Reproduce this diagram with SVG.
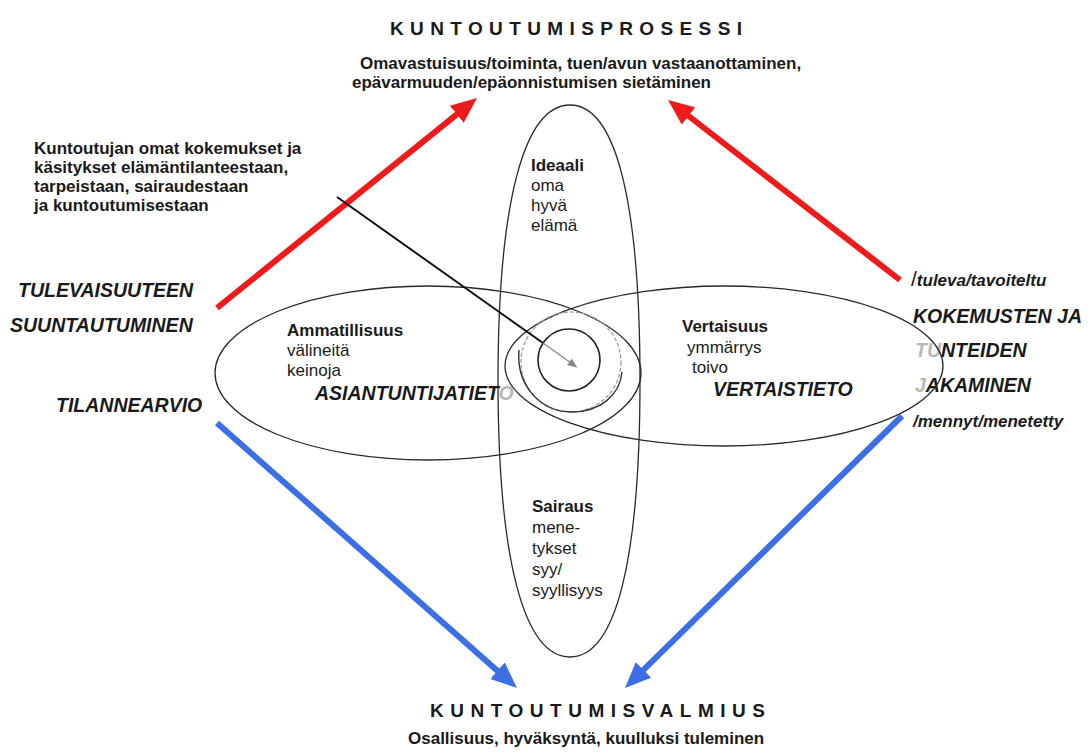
<svg xmlns="http://www.w3.org/2000/svg" width="1089" height="756" viewBox="0 0 1089 756">
<defs>
<style>
text{font-family:"Liberation Sans",Arial,sans-serif;fill:#1a1a1a;font-size:17px}
.b{font-weight:bold}
.bi{font-weight:bold;font-style:italic;font-size:19.5px}
.si{font-weight:bold;font-style:italic;font-size:17px}
.ttl{font-weight:bold;font-size:19px}
.fade{fill:#b8b8b8}
.oval{fill:none;stroke:#2a2a2a;stroke-width:1.3}
.red{stroke:#ee1b1b;stroke-width:6;fill:none;marker-end:url(#ahRed)}
.blue{stroke:#3c6fe4;stroke-width:6;fill:none;marker-end:url(#ahBlue)}
</style>
<marker id="ahRed" viewBox="0 0 26 22" refX="4" refY="11" markerWidth="26" markerHeight="22" markerUnits="userSpaceOnUse" orient="auto"><path d="M0,0 L26,11 L0,22 Z" fill="#ee1b1b"/></marker>
<marker id="ahBlue" viewBox="0 0 26 22" refX="4" refY="11" markerWidth="26" markerHeight="22" markerUnits="userSpaceOnUse" orient="auto"><path d="M0,0 L26,11 L0,22 Z" fill="#3c6fe4"/></marker>
<marker id="ahGray" viewBox="0 0 10 8" refX="2" refY="4" markerWidth="10" markerHeight="8" markerUnits="userSpaceOnUse" orient="auto"><path d="M0,0 L10,4 L0,8 Z" fill="#888"/></marker>
</defs>
<rect width="1089" height="756" fill="#fff"/>

<g id="top-title">
<text class="ttl" x="390" y="35" textLength="352" lengthAdjust="spacing">KUNTOUTUMISPROSESSI</text>
<text class="b" x="360" y="69">Omavastuisuus/toiminta, tuen/avun vastaanottaminen,</text>
<text class="b" x="352" y="88">epävarmuuden/epäonnistumisen sietäminen</text>
</g>

<g id="bottom-title">
<text class="ttl" x="430" y="717" textLength="335" lengthAdjust="spacing">KUNTOUTUMISVALMIUS</text>
<text class="b" x="408" y="744">Osallisuus, hyväksyntä, kuulluksi tuleminen</text>
</g>

<g id="note-left">
<text class="b" x="34" y="154">Kuntoutujan omat kokemukset ja</text>
<text class="b" x="34" y="173">käsitykset elämäntilanteestaan,</text>
<text class="b" x="34" y="192">tarpeistaan, sairaudestaan</text>
<text class="b" x="34" y="211">ja kuntoutumisestaan</text>
</g>

<g id="labels-left">
<text class="bi" x="18" y="297">TULEVAISUUTEEN</text>
<text class="bi" x="10" y="332">SUUNTAUTUMINEN</text>
<text class="bi" x="56" y="412">TILANNEARVIO</text>
</g>

<g id="labels-right">
<text x="911" y="286"><tspan font-size="21">/</tspan><tspan class="si">tuleva/tavoiteltu</tspan></text>
<text class="bi" x="913" y="323">KOKEMUSTEN JA</text>
<text class="bi" x="915" y="357"><tspan class="fade">TU</tspan>NTEIDEN</text>
<text class="bi" x="915" y="392"><tspan class="fade">J</tspan>AKAMINEN</text>
<text class="si" x="913" y="427">/mennyt/menetetty</text>
</g>

<g id="node-ammatillisuus">
<ellipse class="oval" cx="428" cy="373" rx="213" ry="87"/>
<text class="b" x="287" y="336">Ammatillisuus</text>
<text x="287" y="356">välineitä</text>
<text x="287" y="376">keinoja</text>
<text class="bi" x="315" y="400">ASIANTUNTIJATIET<tspan class="fade">O</tspan></text>
</g>

<g id="node-vertaisuus">
<ellipse class="oval" cx="724" cy="366" rx="219" ry="80"/>
<text class="b" x="682" y="332">Vertaisuus</text>
<text x="687" y="353">ymmärrys</text>
<text x="692" y="373">toivo</text>
<text class="bi" x="713" y="396">VERTAISTIETO</text>
</g>

<g id="node-ideaali-sairaus">
<path class="oval" d="M570,105 C616,105 640,202 640,381 C640,560 616,657 570,657 C524,657 498,560 498,381 C498,202 524,105 570,105 Z"/>
<text class="b" x="531" y="171">Ideaali</text>
<text x="531" y="191">oma</text>
<text x="531" y="211">hyvä</text>
<text x="531" y="231">elämä</text>
<text class="b" x="532" y="512">Sairaus</text>
<text x="532" y="533">mene-</text>
<text x="532" y="554">tykset</text>
<text x="532" y="575">syy/</text>
<text x="532" y="596">syyllisyys</text>
</g>

<g id="node-center">
<circle cx="571" cy="362" r="50" fill="none" stroke="#999" stroke-width="1.2" stroke-dasharray="4 2"/>
<path d="M519,350 C516,385 540,412 572,412 C600,412 620,395 622,372" fill="none" stroke="#333" stroke-width="1.4"/>
<circle cx="569" cy="360" r="31" fill="none" stroke="#222" stroke-width="1.6"/>
</g>

<g id="connectors">
<line class="red" x1="217" y1="308" x2="459.9" y2="111.8"/>
<line class="red" x1="900" y1="280" x2="685.4" y2="113.5"/>
<line class="blue" x1="217" y1="423" x2="500.5" y2="673.4"/>
<line class="blue" x1="902" y1="416" x2="640.7" y2="672.6"/>
<line x1="337" y1="197" x2="543" y2="343" stroke="#111" stroke-width="2"/>
<line x1="543" y1="343" x2="571" y2="363" stroke="#888" stroke-width="1.3" marker-end="url(#ahGray)"/>
</g>
</svg>
